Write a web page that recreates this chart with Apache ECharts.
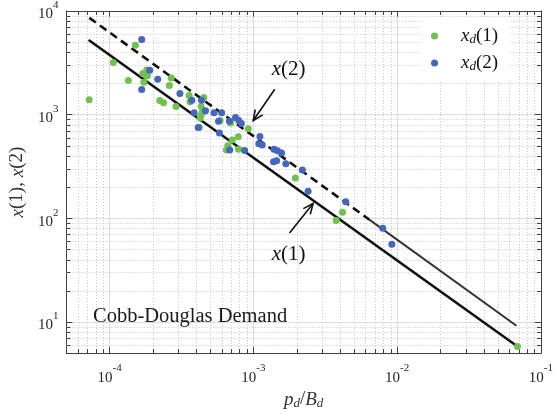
<!DOCTYPE html>
<html>
<head>
<meta charset="utf-8">
<script src="https://cdn.jsdelivr.net/npm/echarts@6/dist/echarts.min.js"></script>
<style>
  html, body { margin: 0; padding: 0; background: #fff; }
  #chart { width: 556px; height: 415px; }
</style>
</head>
<body>
<div id="chart"></div>
<script>
// axis ranges (log scales)
const xRange = [5e-5, 0.1]
const yRange = [5, 1e4]
const minorMult = [2, 3, 4, 5, 6, 7, 8, 9]
const xDecades = [1e-5, 1e-4, 1e-3, 1e-2]
const yDecades = [1, 10, 100, 1000]

// observed demand, [p_d / B_d, x_d]
const xd1 = [
  [7.2e-5, 1390], [1.06e-4, 3180], [1.35e-4, 2140], [1.51e-4, 4680], [1.70e-4, 2500],
  [1.81e-4, 2700], [1.83e-4, 2370], [1.73e-4, 2050], [2.68e-4, 2260], [2.60e-4, 1910],
  [2.23e-4, 1370], [2.37e-4, 1300], [2.89e-4, 1195], [3.57e-4, 1530], [3.62e-4, 1335],
  [4.52e-4, 1460], [4.33e-4, 1200], [4.40e-4, 1050], [4.31e-4, 980], [4.27e-4, 930],
  [4.20e-4, 750], [5.87e-4, 878], [6.94e-4, 830], [9.21e-4, 730], [7.84e-4, 611],
  [7.13e-4, 569], [6.63e-4, 500], [6.49e-4, 457], [7.87e-4, 464], [1.96e-3, 245],
  [4.17e-3, 114], [3.77e-3, 95], [0.0687, 5.8]
]
const xd2 = [
  [1.67e-4, 5300], [1.90e-4, 2680], [2.16e-4, 2200], [1.67e-4, 1750], [3.08e-4, 1600],
  [3.73e-4, 1375], [4.35e-4, 1375], [3.87e-4, 1045], [4.64e-4, 1090], [5.32e-4, 1040],
  [6.01e-4, 1040], [4.13e-4, 750], [5.72e-4, 865], [5.80e-4, 666], [6.81e-4, 865],
  [7.51e-4, 937], [7.91e-4, 878], [8.25e-4, 822], [6.84e-4, 457], [8.69e-4, 451],
  [1.11e-3, 616], [1.09e-3, 523], [1.15e-3, 510], [1.39e-3, 464], [1.47e-3, 448],
  [1.57e-3, 426], [1.38e-3, 352], [1.45e-3, 358], [1.68e-3, 336], [2.19e-3, 292],
  [2.40e-3, 182], [4.39e-3, 144], [7.94e-3, 80], [9.18e-3, 56]
]

// model curves x(1), x(2)
const model1 = [[7.14e-5, 5250], [0.0692, 5.75]]
const model2Dashed = [[7.22e-5, 8590], [6.4e-3, 97]]
const model2Solid = [[6.4e-3, 97], [0.0676, 9.17]]

// annotations: arrow [x0, y0, x1, y1], text anchor [x, y]
const arrows = [[1.408e-3, 1759, 9.97e-4, 877], [1.783e-3, 72.2, 2.60e-3, 138.5]]
const notes = [[1.755e-3, 2717], [1.755e-3, 44.8]]
const noteText = ['{i|x}{n|(2)}', '{i|x}{n|(1)}']

const xMinor = []
xDecades.forEach(d => minorMult.forEach(m => {
  const v = d * m
  if (v > xRange[0] * 1.0001 && v < xRange[1]) xMinor.push(v)
}))
const yMinor = []
yDecades.forEach(d => minorMult.forEach(m => {
  const v = d * m
  if (v > yRange[0] * 1.0001 && v < yRange[1]) yMinor.push(v)
}))

const serif = 'Liberation Serif'
const axisColor = '#404040'
const labelColor = '#262626'

function powLabel (v) {
  const e = Math.log10(v)
  const r = Math.round(e)
  if (Math.abs(e - r) > 1e-6) return ''
  return '{b|10}{e|' + r + '}'
}

const labelRich = {
  b: { fontFamily: serif, fontSize: 15, color: labelColor, lineHeight: 22, verticalAlign: 'bottom' },
  e: { fontFamily: serif, fontSize: 11, color: labelColor, lineHeight: 22, verticalAlign: 'top' }
}
const mathRich = {
  i: { fontFamily: serif, fontStyle: 'italic', fontSize: 21, color: '#111' },
  n: { fontFamily: serif, fontSize: 21, color: '#111' }
}

function minorRender (isX) {
  return function (params, api) {
    const v = api.value(isX ? 0 : 1)
    let a, b
    if (isX) {
      a = api.coord([v, yRange[0]]); b = api.coord([v, yRange[1]])
    } else {
      a = api.coord([xRange[0], v]); b = api.coord([xRange[1], v])
    }
    const c = isX ? Math.round(a[0]) + 0.5 : Math.round(a[1]) + 0.5
    const line = (x1, y1, x2, y2, style) => ({ type: 'line', shape: { x1, y1, x2, y2 }, style })
    const dot = { stroke: '#c6c6c6', lineWidth: 1, lineDash: [1, 2] }
    const tick = { stroke: axisColor, lineWidth: 1 }
    if (isX) {
      return { type: 'group', children: [
        line(c, a[1], c, b[1], dot),
        line(c, a[1], c, a[1] - 4, tick),
        line(c, b[1], c, b[1] + 4, tick)
      ] }
    }
    return { type: 'group', children: [
      line(a[0], c, b[0], c, dot),
      line(a[0], c, a[0] + 4, c, tick),
      line(b[0], c, b[0] - 4, c, tick)
    ] }
  }
}

function arrowRender (params, api) {
  const p0 = api.coord([api.value(0), api.value(1)])
  const p1 = api.coord([api.value(2), api.value(3)])
  const ang = Math.atan2(p1[1] - p0[1], p1[0] - p0[0])
  const len = 11
  const spread = 0.42
  const h1 = [p1[0] - len * Math.cos(ang - spread), p1[1] - len * Math.sin(ang - spread)]
  const h2 = [p1[0] - len * Math.cos(ang + spread), p1[1] - len * Math.sin(ang + spread)]
  const st = { stroke: '#111', lineWidth: 1.6, fill: null }
  return { type: 'group', children: [
    { type: 'line', shape: { x1: p0[0], y1: p0[1], x2: p1[0], y2: p1[1] }, style: st },
    { type: 'polyline', shape: { points: [h1, p1, h2] }, style: st }
  ] }
}

const chart = echarts.init(document.getElementById('chart'))

const logX = {
  type: 'log', logBase: 10, min: xRange[0], max: xRange[1]
}
const logY = {
  type: 'log', logBase: 10, min: yRange[0], max: yRange[1]
}

chart.setOption({
  animation: false,
  backgroundColor: '#fff',
  title: {
    text: 'Cobb-Douglas Demand',
    left: 88,
    top: 301,
    textStyle: { fontFamily: serif, fontSize: 20.5, fontWeight: 'normal', color: '#1a1a1a' }
  },
  grid: { left: 61, right: 11, top: 8, bottom: 57 },
  legend: {
    orient: 'vertical',
    left: 421,
    top: 17,
    padding: [8, 12, 8, 10],
    backgroundColor: '#fff',
    itemWidth: 7,
    itemHeight: 7,
    itemGap: 5,
    icon: 'circle',
    data: ['xd1', 'xd2'],
    formatter: name => name === 'xd1' ? '{i|x}{s|d}{n|(1)}' : '{i|x}{s|d}{n|(2)}',
    textStyle: {
      padding: [0, 0, 0, 18],
      lineHeight: 22,
      rich: {
        i: { fontFamily: serif, fontStyle: 'italic', fontSize: 19, color: '#111', lineHeight: 22 },
        n: { fontFamily: serif, fontSize: 19, color: '#111', lineHeight: 22 },
        s: { fontFamily: serif, fontStyle: 'italic', fontSize: 13, color: '#111', lineHeight: 22, padding: [8, 0, 0, 0] }
      }
    }
  },
  xAxis: [
    Object.assign({}, logX, {
      position: 'bottom',
      name: '{i|p}{s|d}{n|/}{i|B}{s|d}',
      nameLocation: 'middle',
      nameGap: 30,
      nameTextStyle: { rich: {
        i: { fontFamily: serif, fontStyle: 'italic', fontSize: 19, color: '#333' },
        n: { fontFamily: serif, fontSize: 19, color: '#333' },
        s: { fontFamily: serif, fontStyle: 'italic', fontSize: 13, color: '#333', padding: [8, 0, 0, 0] }
      } },
      axisLine: { show: true, onZero: false, lineStyle: { color: axisColor, width: 1 } },
      axisTick: { show: true, inside: true, length: 6, lineStyle: { color: axisColor } },
      axisLabel: { formatter: powLabel, rich: labelRich, margin: 10, showMinLabel: true, showMaxLabel: true },
      splitLine: { show: true, lineStyle: { color: '#dedede', width: 1 } },
      minorTick: { show: false },
      minorSplitLine: { show: false }
    }),
    Object.assign({}, logX, {
      position: 'top',
      axisLine: { show: true, onZero: false, lineStyle: { color: axisColor, width: 1 } },
      axisTick: { show: true, inside: true, length: 6, lineStyle: { color: axisColor } },
      axisLabel: { show: false },
      splitLine: { show: false }
    })
  ],
  yAxis: [
    Object.assign({}, logY, {
      position: 'left',
      name: '{i|x}{n|(1), }{i|x}{n|(2)}',
      nameLocation: 'middle',
      nameGap: 36,
      nameTextStyle: { rich: {
        i: { fontFamily: serif, fontStyle: 'italic', fontSize: 19, color: '#333' },
        n: { fontFamily: serif, fontSize: 19, color: '#333' }
      } },
      axisLine: { show: true, onZero: false, lineStyle: { color: axisColor, width: 1 } },
      axisTick: { show: true, inside: true, length: 6, lineStyle: { color: axisColor } },
      axisLabel: { formatter: powLabel, rich: labelRich, margin: 8, showMinLabel: true, showMaxLabel: true },
      splitLine: { show: true, lineStyle: { color: '#dedede', width: 1 } }
    }),
    Object.assign({}, logY, {
      position: 'right',
      axisLine: { show: true, onZero: false, lineStyle: { color: axisColor, width: 1 } },
      axisTick: { show: true, inside: true, length: 6, lineStyle: { color: axisColor } },
      axisLabel: { show: false },
      splitLine: { show: false }
    })
  ],
  series: [
    {
      name: 'minorX', type: 'custom', silent: true, z: 1,
      data: xMinor.map(v => [v, yRange[0]]),
      renderItem: minorRender(true)
    },
    {
      name: 'minorY', type: 'custom', silent: true, z: 1,
      data: yMinor.map(v => [xRange[0], v]),
      renderItem: minorRender(false)
    },
    {
      name: 'x(1)', type: 'line', z: 3, showSymbol: false, silent: true,
      data: model1,
      lineStyle: { color: '#111', width: 2.6 }
    },
    {
      name: 'x(2)', type: 'line', z: 3, showSymbol: false, silent: true,
      data: model2Dashed,
      lineStyle: { color: '#111', width: 2.6, type: [8, 5] }
    },
    {
      name: 'x(2) tail', type: 'line', z: 3, showSymbol: false, silent: true,
      data: model2Solid,
      lineStyle: { color: '#333', width: 2 }
    },
    {
      name: 'xd1', type: 'scatter', z: 4,
      data: xd1, symbolSize: 7,
      itemStyle: { color: '#70c24e', opacity: 1 }
    },
    {
      name: 'xd2', type: 'scatter', z: 4,
      data: xd2, symbolSize: 7,
      itemStyle: { color: '#4566bd', opacity: 1 }
    },
    {
      name: 'arrows', type: 'custom', silent: true, z: 5,
      data: arrows,
      encode: { x: [0, 2], y: [1, 3] },
      renderItem: arrowRender
    },
    {
      name: 'notes', type: 'scatter', silent: true, z: 5,
      data: notes,
      symbolSize: 0,
      itemStyle: { color: '#111', opacity: 1 },
      label: {
        show: true,
        position: 'inside',
        color: '#111',
        opacity: 1,
        textBorderWidth: 0,
        formatter: p => noteText[p.dataIndex],
        rich: mathRich
      },
      emphasis: { disabled: true }
    }
  ]
})
</script>
</body>
</html>
